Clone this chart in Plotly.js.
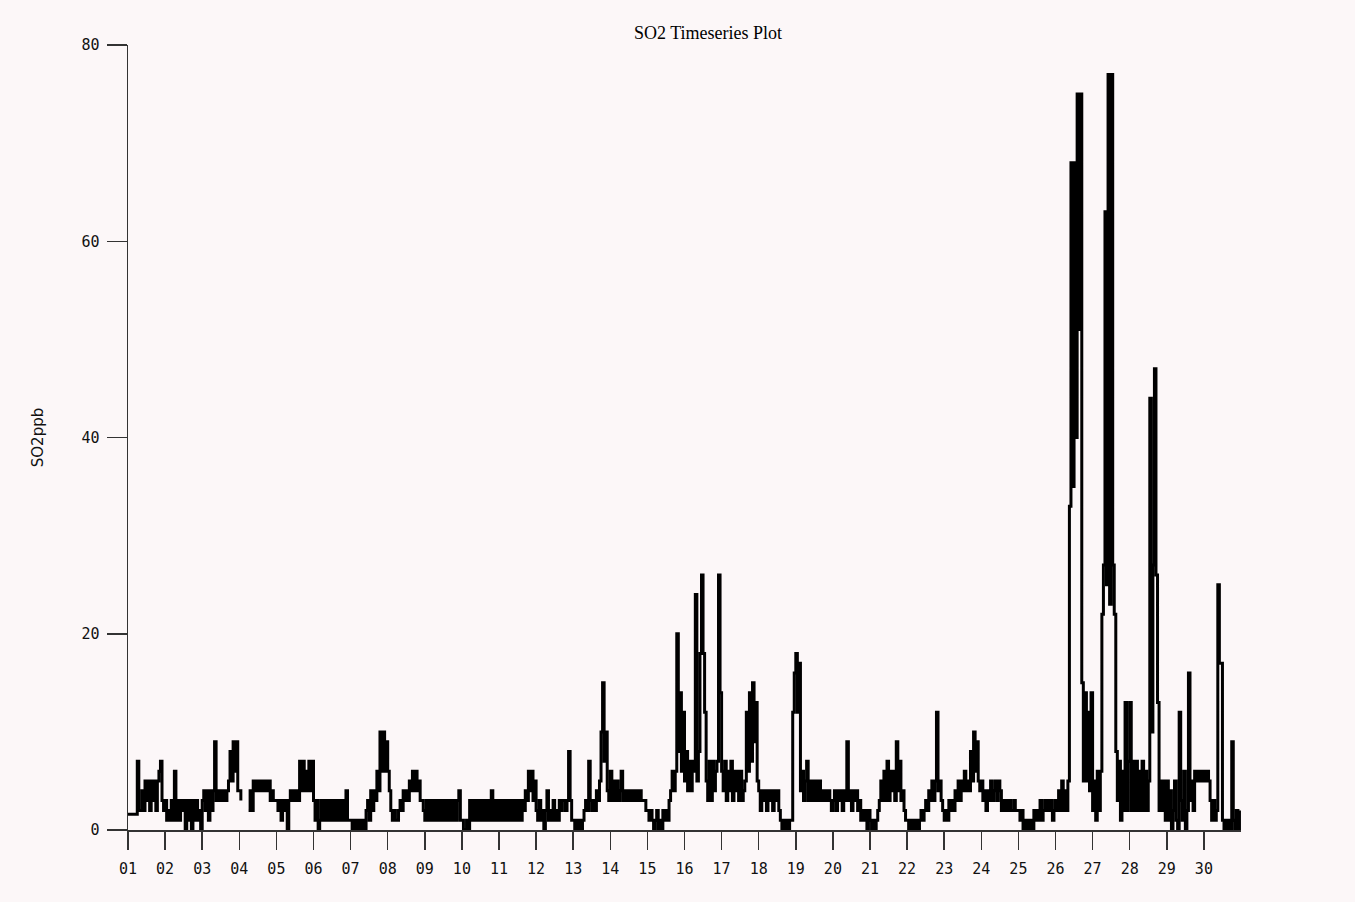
<!DOCTYPE html>
<html>
<head>
<meta charset="utf-8">
<script src="https://cdn.plot.ly/plotly-3.0.1.min.js"></script>
<style>
  html, body { margin: 0; padding: 0; background: #fcf7f8; }
  #chart { width: 1355px; height: 902px; }
</style>
</head>
<body>
<div id="chart"></div>
<script>
// Day-of-month labels for the x axis
const dayLabels = ['01','02','03','04','05','06','07','08','09','10',
                   '11','12','13','14','15','16','17','18','19','20',
                   '21','22','23','24','25','26','27','28','29','30'];

// Hourly SO2 concentration (ppb), one row of 24 hours per day; null = no data
const hourlySO2 = [
  [1.6,1.6,1.6,1.6,1.6,1.6,7,2,2,4,2,5,3,5,2,5,3,5,2,5,6,7,3,2],      // 01
  [3,1,2,1,3,1,6,1,3,1,3,2,3,0,3,1,3,0,3,1,3,1,2,0],                  // 02
  [3,4,2,4,1,4,2,4,9,3,4,3,4,3,4,3,4,5,8,5,9,6,9,4],                  // 03
  [4,3,null,null,null,null,2,4,2,5,4,5,4,5,4,5,4,5,4,5,3,4,3,3],      // 04
  [3,2,3,1,3,2,3,0,3,4,3,4,3,4,3,7,4,7,4,6,4,7,4,7],                  // 05
  [3,1,3,0,1,3,1,3,1,3,1,3,1,3,1,3,1,3,1,3,1,4,1,1],                  // 06
  [1,0,1,0,1,0,1,0,1,0,2,3,1,4,2,4,3,6,4,10,6,10,6,9],                // 07
  [6,4,2,1,2,1,1,2,3,2,4,3,4,3,5,4,6,4,6,4,5,3,3,2],                  // 08
  [1,3,1,3,1,3,1,3,1,3,1,3,1,3,1,3,1,3,1,3,1,3,4,1],                  // 09
  [1,0,0,1,0,3,1,3,1,3,1,3,1,3,1,3,1,3,1,4,1,3,1,3],                  // 10
  [1,3,1,3,1,3,1,3,1,3,1,3,1,3,1,3,2,4,3,6,4,6,3,5],                  // 11
  [2,1,3,1,2,0,2,4,1,2,1,3,1,2,1,3,2,3,3,2,3,8,3,1],                  // 12
  [1,0,1,0,1,0,1,2,3,2,7,3,2,3,2,4,3,5,10,15,7,10,4,3],               // 13
  [6,3,5,3,5,3,4,6,3,4,3,4,3,4,3,4,3,4,3,4,3,3,3,2],                  // 14
  [2,1,2,1,0,1,2,0,1,0,2,1,2,1,3,4,6,4,6,20,8,14,6,12],               // 15
  [5,8,4,7,4,7,6,24,5,8,18,26,18,12,5,3,7,3,7,4,6,7,26,14],           // 16
  [6,4,7,3,6,4,7,3,6,4,6,3,6,3,4,5,12,6,14,7,15,9,13,5],              // 17
  [4,2,4,3,4,2,4,3,4,2,4,3,4,2,1,0,1,0,1,0,1,1,12,16],                // 18
  [18,12,17,4,6,3,5,7,3,5,3,5,3,5,3,5,3,4,3,4,3,4,3,2],               // 19
  [3,4,2,4,3,4,2,4,3,9,3,4,2,4,3,4,2,3,1,2,1,2,0,2],                  // 20
  [1,0,1,0,1,2,3,5,3,6,3,7,3,6,4,6,3,9,4,7,3,4,2,1],                  // 21
  [1,0,1,0,1,0,1,0,1,2,1,2,3,2,4,3,5,3,5,12,4,5,3,2],                 // 22
  [1,2,1,3,2,3,2,4,3,5,3,5,4,6,4,5,4,8,5,10,6,9,5,4],                 // 23
  [5,3,4,2,4,3,5,3,4,5,3,5,4,2,3,2,3,2,3,2,2,3,2,2],                  // 24
  [2,1,2,0,1,0,1,0,1,0,2,1,2,1,3,1,2,3,2,3,2,3,1,2],                  // 25
  [3,2,4,2,5,2,4,2,5,33,68,35,68,40,75,51,75,15,5,14,5,12,4,14],      // 26
  [2,5,1,6,2,6,22,27,63,25,77,23,77,27,22,8,3,7,1,6,2,13,2,7],        // 27
  [13,2,7,2,7,2,6,2,7,2,6,2,5,44,10,27,47,26,13,2,5,2,5,1],           // 28
  [5,1,4,0,2,5,1,0,12,3,1,6,0,2,16,3,5,2,6,5,6,5,6,5],                // 29
  [6,5,6,5,3,1,3,1,2,25,17,17,1,0,1,0,1,0,9,1,0,2,0,2]                // 30
];

const yTicks = [0, 20, 40, 60, 80];

// Flatten to a single hourly series; x is hours since the start of day 01
const hours = [];
const values = [];
hourlySO2.forEach((day, d) => {
  day.forEach((v, h) => {
    hours.push(d * 24 + h);
    values.push(v);
  });
});
const dayTickHours = dayLabels.map((_, i) => i * 24);

const bg = '#fcf7f8';
const axisColor = '#333333';
const tickFont = { family: 'DejaVu Sans Mono, monospace', size: 15, color: '#111' };

const trace = {
  x: hours,
  y: values,
  type: 'scatter',
  mode: 'lines',
  line: { color: '#000', width: 3, shape: 'hv' },
  connectgaps: false,
  hoverinfo: 'x+y'
};

const layout = {
  width: 1355,
  height: 902,
  paper_bgcolor: bg,
  plot_bgcolor: bg,
  margin: { l: 128, r: 114, t: 45, b: 72 },
  showlegend: false,
  title: {
    text: 'SO2 Timeseries Plot',
    font: { family: 'Liberation Serif, serif', size: 18, color: '#000' },
    x: 708 / 1355,
    xanchor: 'center',
    y: 1 - 33 / 902,
    yanchor: 'middle'
  },
  xaxis: {
    range: [0, 720],
    tickmode: 'array',
    tickvals: dayTickHours,
    ticktext: dayLabels,
    ticks: 'outside',
    ticklen: 18,
    tickwidth: 1.5,
    tickcolor: axisColor,
    showline: true,
    linecolor: axisColor,
    linewidth: 1.5,
    showgrid: false,
    zeroline: false,
    tickfont: tickFont,
    ticklabelstandoff: 6,
    fixedrange: true
  },
  yaxis: {
    range: [0, 80],
    tickmode: 'array',
    tickvals: yTicks,
    ticktext: yTicks.map(String),
    ticks: 'outside',
    ticklen: 20,
    tickwidth: 1.5,
    tickcolor: axisColor,
    showline: true,
    linecolor: axisColor,
    linewidth: 1.5,
    showgrid: false,
    zeroline: false,
    tickfont: tickFont,
    ticklabelstandoff: 4,
    title: {
      text: 'SO2ppb',
      font: { family: 'DejaVu Sans, sans-serif', size: 15, color: '#111' },
      standoff: 34
    },
    fixedrange: true
  }
};

Plotly.newPlot('chart', [trace], layout, { displayModeBar: false, staticPlot: true });
</script>
</body>
</html>
